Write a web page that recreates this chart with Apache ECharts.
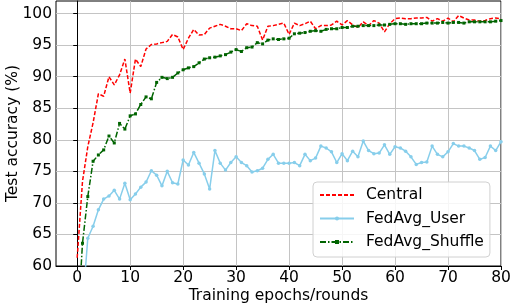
<!DOCTYPE html>
<html><head><meta charset="utf-8">
<script src="https://cdn.jsdelivr.net/npm/echarts@6/dist/echarts.min.js"></script>
<style>html,body{margin:0;padding:0;background:#fff}#c{width:512px;height:306px}</style>
</head><body><div id="c"></div>
<script>
const epochs = Array.from({length: 81}, (_, i) => i);
const central = [61.3,73.4,78.9,82.7,87.3,86.9,90.0,88.7,90.3,92.8,87.4,92.8,91.6,94.4,95.1,95.2,95.4,95.6,96.7,96.3,
  94.3,96.1,97.5,96.6,96.7,97.7,98.0,98.3,98.0,97.6,97.6,97.3,98.4,98.1,98.0,95.8,98.0,98.1,98.3,98.5,
  96.7,98.5,98.1,98.4,98.8,97.6,98.1,98.1,98.2,98.8,98.2,98.9,98.2,97.8,98.7,98.1,98.9,98.5,97.1,98.4,
  99.2,99.3,99.2,99.2,99.3,99.3,99.4,98.8,99.2,98.8,99.3,98.7,99.7,99.3,99.0,99.0,98.8,98.9,99.2,99.3,99.2];
const fedAvgUser = [40.0,53.4,64.4,66.3,68.9,70.6,71.1,72.0,70.6,73.1,70.5,71.4,72.5,73.3,75.1,74.4,72.7,75.0,73.2,73.0,
  76.8,76.0,78.0,76.3,74.6,72.2,78.3,76.3,75.2,76.4,77.3,76.4,75.9,74.9,75.1,75.5,76.9,77.7,76.3,76.3,
  76.3,76.4,75.9,77.7,76.7,77.1,79.0,78.7,78.1,76.4,77.8,76.7,78.2,77.3,79.8,78.3,77.8,77.9,79.2,77.7,
  78.9,78.7,78.2,77.3,76.1,76.4,76.5,79.0,77.7,77.3,78.1,79.4,79.0,79.0,78.7,78.3,76.9,77.2,79.0,78.3,79.7];
const fedAvgShuffle = [49.2,63.6,71.0,76.6,77.6,78.4,80.6,79.5,82.6,81.7,83.8,84.1,85.6,86.8,86.5,89.1,89.9,89.7,89.9,90.6,
  91.1,91.4,91.6,92.2,92.8,93.0,93.1,93.3,93.5,93.9,94.3,94.0,94.6,94.7,95.4,95.2,95.8,96.0,95.9,96.0,
  96.1,96.8,96.9,97.0,97.2,97.3,97.2,97.5,97.6,97.6,97.8,97.8,98.0,98.0,98.1,98.1,98.1,98.2,98.2,98.3,
  98.4,98.4,98.3,98.4,98.4,98.4,98.5,98.5,98.5,98.6,98.5,98.6,98.6,98.5,98.7,98.7,98.7,98.7,98.7,98.8,98.9];
const xTicks = [0,10,20,30,40,50,60,70,80];
const yTicks = [60,65,70,75,80,85,90,95,100];

const pair = arr => arr.map((v, i) => [epochs[i], v]);
const font = 'DejaVu Sans';
const FS = 15.5;
const chart = echarts.init(document.getElementById('c'), null, {renderer: 'canvas'});
chart.setOption({
  animation: false,
  grid: {left: 56, right: 11, top: 1, bottom: 40, show: true, borderColor: '#000', borderWidth: 1,
         backgroundColor: 'transparent', containLabel: false, outerBoundsMode: 'none'},
  xAxis: {
    type: 'value', min: -4, max: 80,
    name: 'Training epochs/rounds', nameLocation: 'middle', nameGap: 22, nameMoveOverlap: false,
    nameTextStyle: {fontFamily: font, fontSize: FS, color: '#000'},
    axisLine: {show: true, lineStyle: {color: '#000', width: 1}},
    axisTick: {show: true, length: 4, customValues: xTicks, lineStyle: {color: '#000'}},
    axisLabel: {customValues: xTicks, fontFamily: font, fontSize: FS, color: '#000', margin: 4},
    splitLine: {show: true, lineStyle: {color: '#c4c4c4', width: 1}}
  },
  yAxis: {
    type: 'value', min: 60, max: 102,
    name: 'Test accuracy (%)', nameLocation: 'middle', nameGap: 35, nameMoveOverlap: false,
    nameTextStyle: {fontFamily: font, fontSize: FS, color: '#000'},
    axisLine: {show: true, lineStyle: {color: '#000', width: 1}},
    axisTick: {show: true, length: 4, customValues: yTicks, lineStyle: {color: '#000'}},
    axisLabel: {customValues: yTicks, fontFamily: font, fontSize: FS, color: '#000', margin: 4},
    splitLine: {show: true, lineStyle: {color: '#c4c4c4', width: 1}}
  },
  legend: {
    orient: 'vertical', left: 313, top: 182,
    itemWidth: 34, itemHeight: 5, itemGap: 7.5,
    padding: [5, 6, 7, 6],
    borderColor: '#d0d0d0', borderWidth: 1, borderRadius: 4, backgroundColor: 'rgba(255,255,255,0.85)',
    textStyle: {fontFamily: font, fontSize: FS, color: '#000', lineHeight: 16, padding: [0, 0, 0, 7]},
    data: [{name: 'Central', itemStyle: {opacity: 0}}, 'FedAvg_User', 'FedAvg_Shuffle']
  },
  series: [
    {name: 'Central', type: 'line', data: pair(central), symbol: 'none', clip: true,
     lineStyle: {color: '#ff0000', width: 1.5, type: [4, 2]}, itemStyle: {color: '#ff0000'}},
    {name: 'FedAvg_User', type: 'line', data: pair(fedAvgUser), symbol: 'circle', symbolSize: 3.5, clip: true,
     lineStyle: {color: '#87ceeb', width: 1.5}, itemStyle: {color: '#87ceeb'}},
    {name: 'FedAvg_Shuffle', type: 'line', data: pair(fedAvgShuffle), symbol: 'rect', symbolSize: 3, clip: true,
     lineStyle: {color: '#006400', width: 1.5, type: [6, 2, 1.5, 2]}, itemStyle: {color: '#006400'}}
  ]
});
</script></body></html>
